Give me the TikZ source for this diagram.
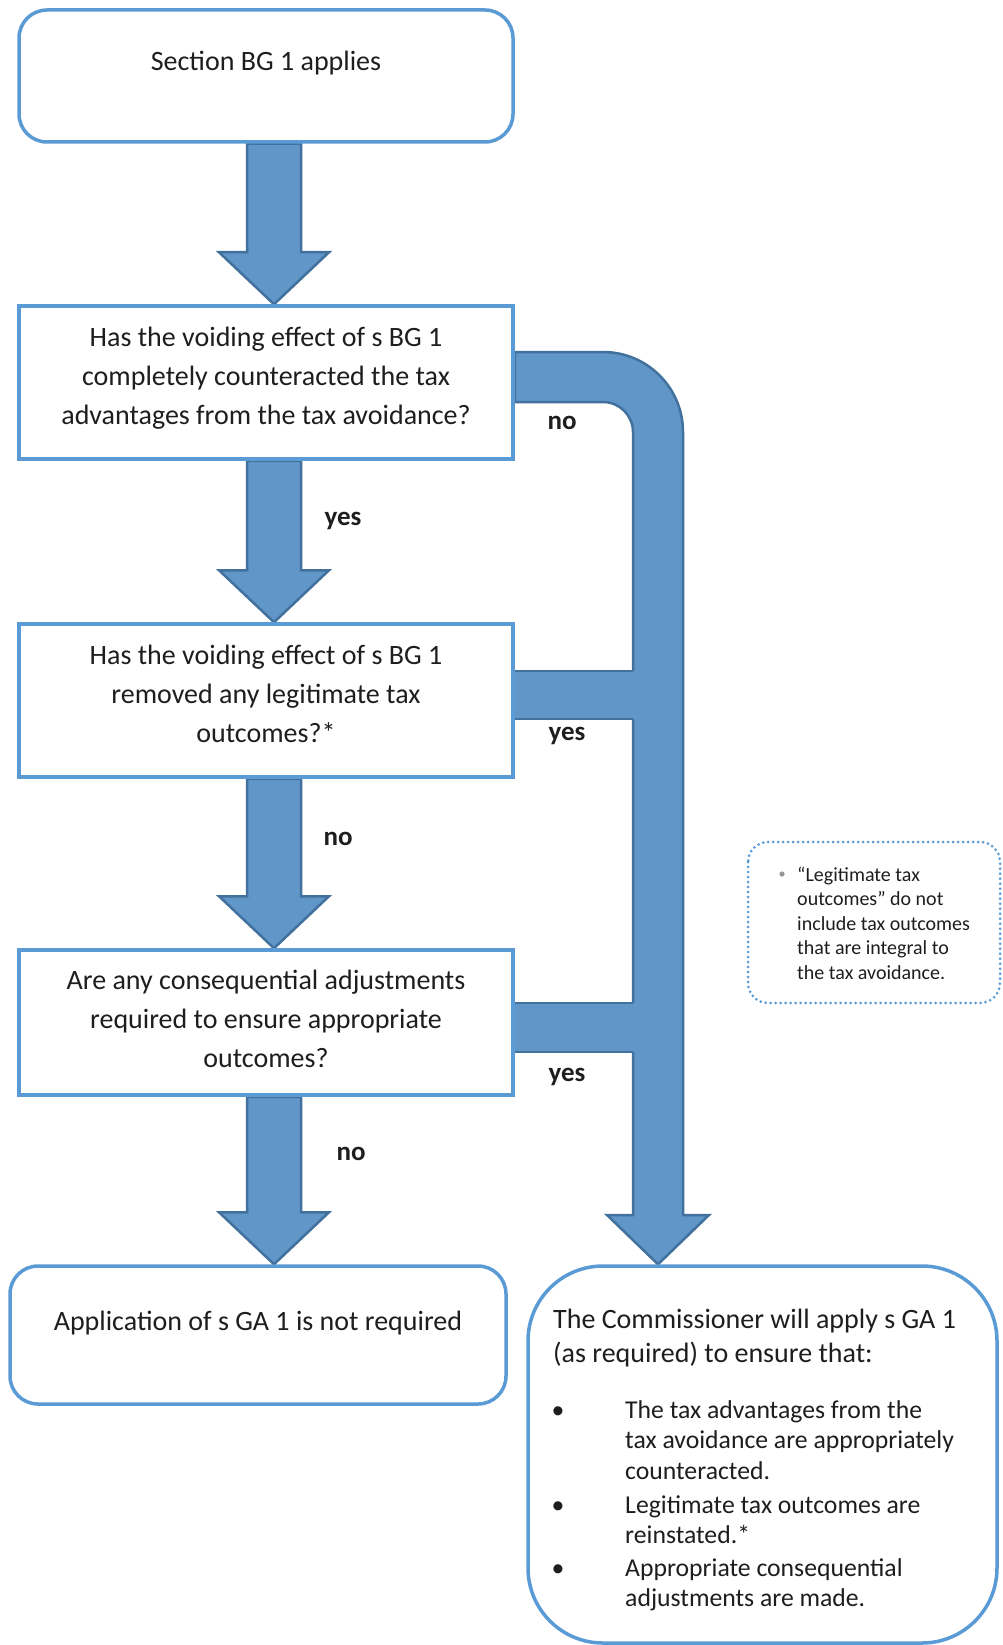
\documentclass[tikz,border=0pt]{standalone}
\usepackage{fontspec}
\setmainfont{Carlito}
\usetikzlibrary{calc}
\definecolor{boxblue}{RGB}{91,155,213}
\definecolor{arrfill}{RGB}{97,150,201}
\definecolor{arredge}{RGB}{65,113,156}
\definecolor{txt}{RGB}{30,30,30}
\definecolor{dotgray}{RGB}{150,150,150}
\newcommand\blockdown[3]{%
  \draw[blockarrow] let \p1=(#2.south -| #1), \p2=(#3.north -| #1) in
    (\x1-27pt,\y1) -- (\x1-27pt,\y2+52pt) -- (\x1-55pt,\y2+52pt) -- (\x1,\y2)
    -- (\x1+55pt,\y2+52pt) -- (\x1+27pt,\y2+52pt) -- (\x1+27pt,\y1) -- cycle;}
\begin{document}
\begin{tikzpicture}[x=1pt,y=-1pt,
  every node/.style={text=txt},
  sqbox/.style={draw=boxblue, line width=3.5pt, fill=white, inner sep=0pt, minimum width=494pt},
  rbox/.style={sqbox, rounded corners=28pt},
  blockarrow/.style={fill=arrfill, draw=arredge, line width=2.5pt, line join=miter},
  maintext/.style={inner sep=0pt, anchor=base, font=\fontsize{28}{39}\selectfont},
  lbl/.style={inner sep=0pt, font=\fontsize{27}{30}\selectfont\bfseries},
  bodytext/.style={inner sep=0pt, anchor=base west, font=\fontsize{25.7}{30.5}\selectfont},
  notetext/.style={inner sep=0pt, anchor=base west, font=\fontsize{20}{24.5}\selectfont},
  notebox/.style={draw=boxblue, line width=3pt, line cap=round, dash pattern=on 0pt off 5pt, rounded corners=20pt}
]
\useasboundingbox (0,0) rectangle (1003,1645);
\fill[white] (0,0) rectangle (1003,1645);

% coordinates for arrow axes
\coordinate (ax) at (274,0);
\coordinate (rx) at (658,0);

% box frames (named, drawn later on top)
\path (266,76) node[rbox, draw=none, fill=none, minimum height=132pt] (b1) {};
\path (266,382.5) node[sqbox, draw=none, fill=none, minimum height=153pt] (b2) {};
\path (266,700.5) node[sqbox, draw=none, fill=none, minimum height=153pt] (b3) {};
\path (266,1022.5) node[sqbox, draw=none, fill=none, minimum height=145pt] (b4) {};
\path (258,1335) node[rbox, draw=none, fill=none, minimum width=496pt, minimum height=138pt] (b5) {};
\path (762.5,1454.5) node[rbox, rounded corners=75pt, draw=none, fill=none, minimum width=469pt, minimum height=377pt] (b6) {};

% vertical block arrows
\blockdown{ax}{b1}{b2}
\blockdown{ax}{b2}{b3}
\blockdown{ax}{b3}{b4}
\blockdown{ax}{b4}{b5}

% right-hand connector from b2 (no) down to b6
\draw[blockarrow] let \p1=(b2.east), \p2=(b6.north -| rx) in
  (\x1,-352pt) -- (603,352) arc[start angle=90, end angle=0, radius=80pt]
  -- (683,1215) -- (709,1215) -- (\x2,\y2) -- (607,1215) -- (633,1215)
  -- (633,432) arc[start angle=0, end angle=90, radius=30pt] -- (\x1,-402pt) -- cycle;
% branches from b3 and b4 (yes)
\fill[arrfill] (b3.east |- 0,671) rectangle (634.8,719);
\draw[arredge, line width=2.5pt] (b3.east |- 0,671) -- (633,671) (b3.east |- 0,719) -- (633,719);
\fill[arrfill] (b4.east |- 0,1003) rectangle (634.8,1052);
\draw[arredge, line width=2.5pt] (b4.east |- 0,1003) -- (633,1003) (b4.east |- 0,1052) -- (633,1052);

% boxes drawn on top
\node[rbox, minimum height=132pt] (f1) at (b1) {};
\node[sqbox, minimum height=153pt] (f2) at (b2) {};
\node[sqbox, minimum height=153pt] (f3) at (b3) {};
\node[sqbox, minimum height=145pt] (f4) at (b4) {};
\node[rbox, minimum width=496pt, minimum height=138pt] (f5) at (b5) {};
\node[rbox, rounded corners=75pt, minimum width=469pt, minimum height=377pt] (f6) at (b6) {};

% texts
\node[maintext] (t1) at (266,71) {Section BG 1 applies};
\node[maintext] (t2) at (266,346) {\parbox[t]{480pt}{\centering Has the voiding effect of s BG 1\\completely counteracted the tax\\advantages from the tax avoidance?}};
\node[maintext] (t3) at (266,664) {\parbox[t]{480pt}{\centering Has the voiding effect of s BG 1\\removed any legitimate tax\\outcomes?*}};
\node[maintext] (t4) at (266,989) {\parbox[t]{480pt}{\centering Are any consequential adjustments\\required to ensure appropriate\\outcomes?}};
\node[maintext] (t5) at (258,1330) {Application of s GA 1 is not required};

\node[bodytext] (t6) at (553,1328) {\parbox[t]{430pt}{\fontsize{28}{34}\selectfont The Commissioner will apply s GA 1\\(as required) to ensure that:}};
\node[bodytext, anchor=base] (d1) at (558,1418) {•};
\node[bodytext] (p1) at (625,1418) {\parbox[t]{360pt}{The tax advantages from the\\tax avoidance are appropriately\\counteracted.}};
\node[bodytext, anchor=base] (d2) at (558,1513) {•};
\node[bodytext] (p2) at (625,1513) {\parbox[t]{360pt}{Legitimate tax outcomes are\\reinstated.*}};
\node[bodytext, anchor=base] (d3) at (558,1576) {•};
\node[bodytext] (p3) at (625,1576) {\parbox[t]{360pt}{Appropriate consequential\\adjustments are made.}};

% labels
\node[lbl] (l1) at (562,423) {no};
\node[lbl] (l2) at (343,521) {yes};
\node[lbl] (l3) at (567,736) {yes};
\node[lbl] (l4) at (338,839) {no};
\node[lbl] (l5) at (567,1077) {yes};
\node[lbl] (l6) at (351,1154) {no};

% note
\draw[notebox] (748,842) rectangle (1000,1003);
\fill[dotgray] (782,874) circle (2.6pt);
\node[notetext] (n1) at (797,881) {\parbox[t]{200pt}{“Legitimate tax\\outcomes” do not\\include tax outcomes\\that are integral to\\the tax avoidance.}};
\end{tikzpicture}
\end{document}
